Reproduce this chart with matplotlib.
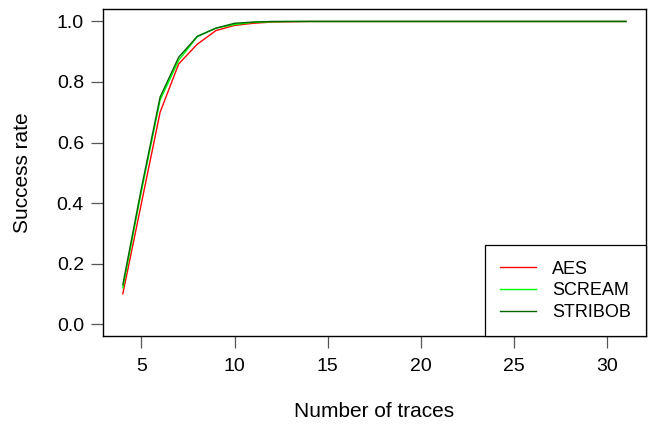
import matplotlib
matplotlib.use("Agg")
import matplotlib.pyplot as plt

plt.rcParams['font.family'] = ['Liberation Sans', 'DejaVu Sans']

# number of traces
traces = list(range(4, 32))

# success rates
aes = [0.10, 0.40, 0.70, 0.86, 0.925, 0.97, 0.987, 0.994, 0.998, 0.999, 1.0, 1.0,
       1.0, 1.0, 1.0, 1.0, 1.0, 1.0, 1.0, 1.0, 1.0, 1.0, 1.0, 1.0, 1.0, 1.0, 1.0, 1.0]
scream = [0.12, 0.44, 0.74, 0.872, 0.95, 0.978, 0.99, 0.997, 0.999, 1.0, 1.0, 1.0,
          1.0, 1.0, 1.0, 1.0, 1.0, 1.0, 1.0, 1.0, 1.0, 1.0, 1.0, 1.0, 1.0, 1.0, 1.0, 1.0]
stribob = [0.13, 0.45, 0.75, 0.882, 0.951, 0.978, 0.994, 0.998, 1.0, 1.0, 1.0, 1.0,
           1.0, 1.0, 1.0, 1.0, 1.0, 1.0, 1.0, 1.0, 1.0, 1.0, 1.0, 1.0, 1.0, 1.0, 1.0, 1.0]

series_names = ["AES", "SCREAM", "STRIBOB"]
colors = ["#ff0000", "#00ff00", "#006400"]

fig = plt.figure(figsize=(6.5, 4.25), dpi=100)
ax = fig.add_axes([0.158, 0.209, 0.836, 0.769])

for ys, name, c in zip([aes, scream, stribob], series_names, colors):
    ax.plot(traces, ys, color=c, lw=1.0, label=name)

# R-style 4% padding
span = traces[-1] - traces[0]
ax.set_xlim(traces[0] - 0.04 * span, traces[-1] + 0.04 * span)
ax.set_ylim(-0.04, 1.04)
ax.set_xticks([5, 10, 15, 20, 25, 30])
ax.set_yticks([0.0, 0.2, 0.4, 0.6, 0.8, 1.0])
ax.set_yticklabels(["0.0", "0.2", "0.4", "0.6", "0.8", "1.0"])
ax.tick_params(direction="out", length=8.5, width=0.9, color="#555555",
               labelsize=14, pad=5)
ax.tick_params(axis="x", pad=7)
for s in ax.spines.values():
    s.set_linewidth(1.0)
    s.set_color("black")

ax.set_xlabel("Number of traces", fontsize=15)
ax.set_ylabel("Success rate", fontsize=15)
ax.xaxis.set_label_coords(0.5, -0.232)
ax.xaxis.label.set_va("center")
ax.yaxis.set_label_coords(-0.147, 0.5)
ax.yaxis.label.set_va("center")

leg = ax.legend(loc="lower right", bbox_to_anchor=(1.0, 0.0), borderaxespad=0,
                fontsize=13, fancybox=False, framealpha=1, edgecolor="black",
                handlelength=1.95, handletextpad=0.9, borderpad=0.85,
                labelspacing=0.25)
leg.get_frame().set_linewidth(0.9)

fig.savefig("out.png", dpi=100)
